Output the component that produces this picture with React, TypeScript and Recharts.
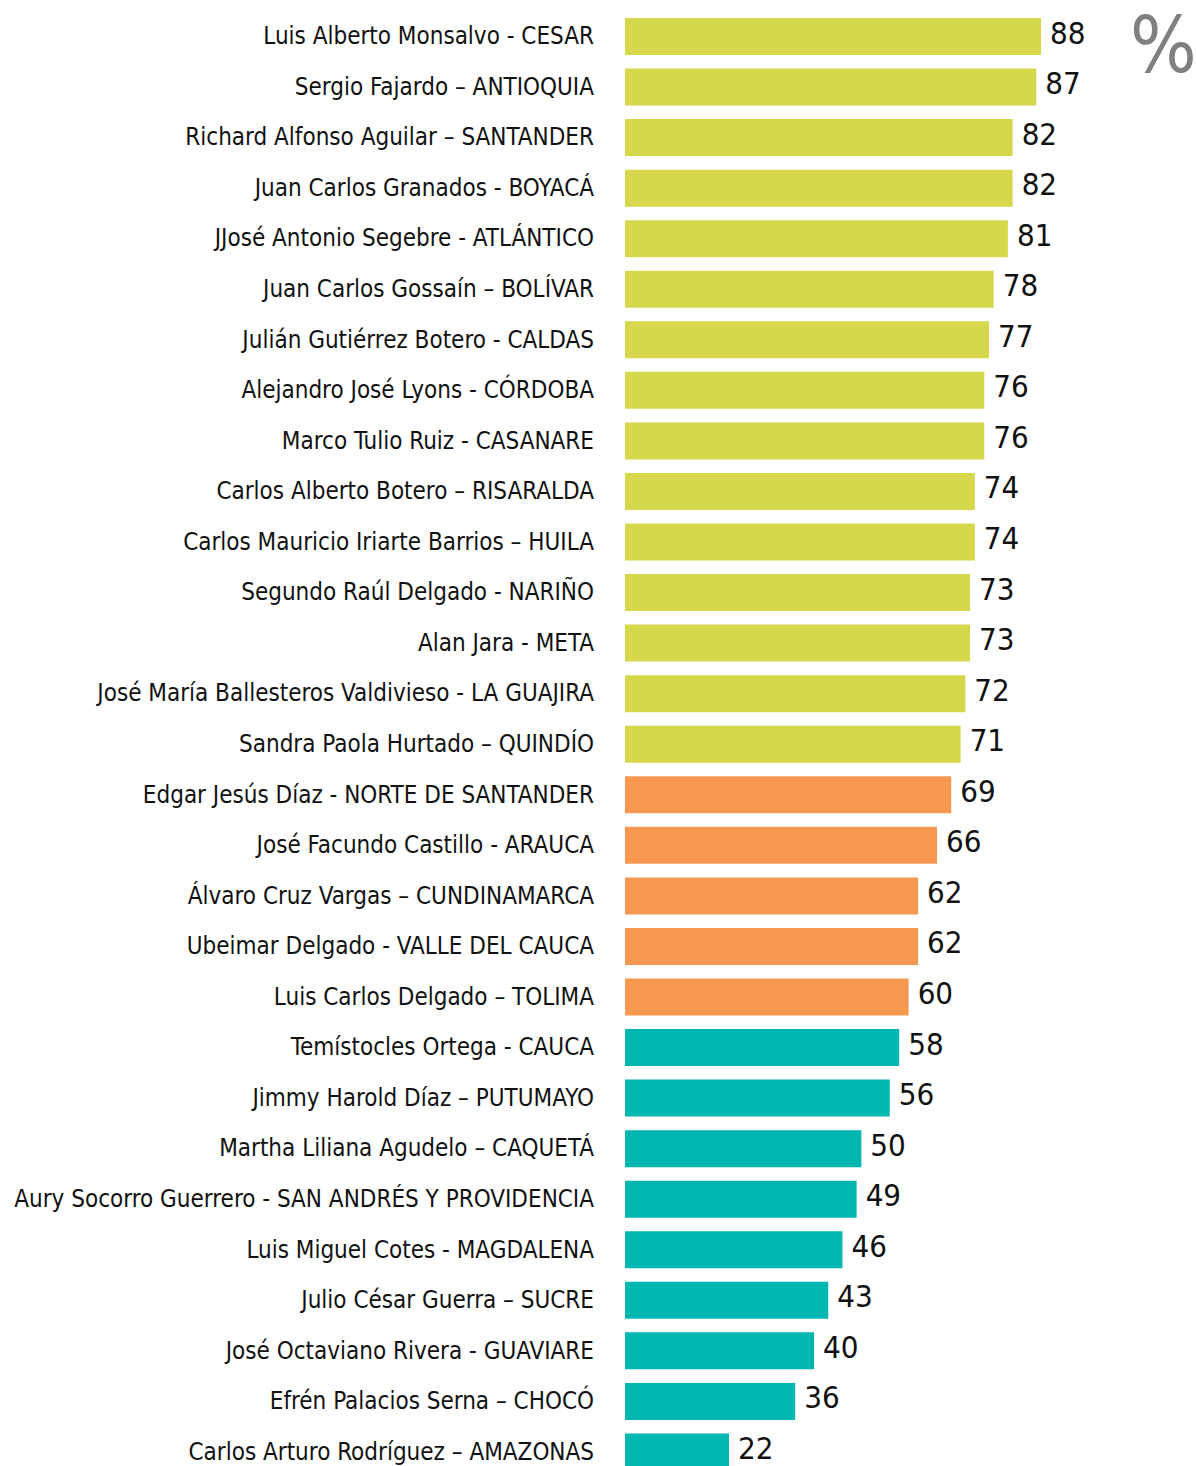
import { BarChart, Bar, XAxis, YAxis, Cell, LabelList } from "recharts";

const names = [
  "Luis Alberto Monsalvo - CESAR",
  "Sergio Fajardo – ANTIOQUIA",
  "Richard Alfonso Aguilar – SANTANDER",
  "Juan Carlos Granados - BOYACÁ",
  "JJosé Antonio Segebre - ATLÁNTICO",
  "Juan Carlos Gossaín – BOLÍVAR",
  "Julián Gutiérrez Botero  - CALDAS",
  "Alejandro José Lyons - CÓRDOBA",
  "Marco Tulio Ruiz - CASANARE",
  "Carlos Alberto Botero – RISARALDA",
  "Carlos Mauricio Iriarte Barrios – HUILA",
  "Segundo Raúl Delgado - NARIÑO",
  "Alan Jara - META",
  "José María Ballesteros Valdivieso - LA GUAJIRA",
  "Sandra Paola Hurtado – QUINDÍO",
  "Edgar Jesús Díaz - NORTE DE SANTANDER",
  "José Facundo Castillo - ARAUCA",
  "Álvaro Cruz Vargas – CUNDINAMARCA",
  "Ubeimar Delgado - VALLE DEL CAUCA",
  "Luis Carlos Delgado – TOLIMA",
  "Temístocles Ortega - CAUCA",
  "Jimmy Harold Díaz – PUTUMAYO",
  "Martha Liliana Agudelo – CAQUETÁ",
  "Aury Socorro Guerrero - SAN ANDRÉS Y PROVIDENCIA",
  "Luis Miguel Cotes - MAGDALENA",
  "Julio César Guerra – SUCRE",
  "José Octaviano Rivera - GUAVIARE",
  "Efrén Palacios Serna – CHOCÓ",
  "Carlos Arturo Rodríguez – AMAZONAS",
];

const approval = [
  88, 87, 82, 82, 81, 78, 77, 76, 76, 74, 74, 73, 73, 72, 71,
  69, 66, 62, 62, 60,
  58, 56, 50, 49, 46, 43, 40, 36, 22,
];

// 0 = high, 1 = medium, 2 = low
const tier = [
  0, 0, 0, 0, 0, 0, 0, 0, 0, 0, 0, 0, 0, 0, 0,
  1, 1, 1, 1, 1,
  2, 2, 2, 2, 2, 2, 2, 2, 2,
];

const tierColors = ["#D5D84A", "#F69850", "#00B6B0"];

const data = names.map((name, i) => ({ name, value: approval[i], tier: tier[i] }));

const FONT = "'DejaVu Sans Condensed', 'Liberation Sans Narrow', sans-serif";

function NameTick(props: any) {
  const { x, y, payload } = props;
  return (
    <text x={x - 23} y={y} textAnchor="end" dominantBaseline="central" fontFamily={FONT} fontSize={24} fill="#111">
      {payload.value}
    </text>
  );
}

export default function App() {
  return (
    <div style={{ position: "absolute", left: 0, top: 0, width: 1196, height: 1466, overflow: "hidden", background: "#fff" }}>
      <BarChart
        width={1196}
        height={1477}
        data={data}
        layout="vertical"
        margin={{ top: 11, right: 155, left: 0, bottom: 0 }}
      >
        <XAxis type="number" domain={[0, 88]} hide />
        <YAxis
          type="category"
          dataKey="name"
          width={625}
          axisLine={false}
          tickLine={false}
          tick={<NameTick />}
          interval={0}
        />
        <Bar dataKey="value" barSize={37} isAnimationActive={false}>
          {data.map((d, i) => (
            <Cell key={i} fill={tierColors[d.tier]} />
          ))}
          <LabelList
            dataKey="value"
            position="right"
            offset={9}
            dy={-4}
            style={{ fontFamily: FONT, fontSize: 31, fill: "#111" }}
          />
        </Bar>
      </BarChart>
      <div
        style={{
          position: "absolute",
          left: 1130,
          top: 6,
          fontFamily: FONT,
          fontSize: 78,
          color: "#808080",
          lineHeight: 1,
        }}
      >
        %
      </div>
    </div>
  );
}
